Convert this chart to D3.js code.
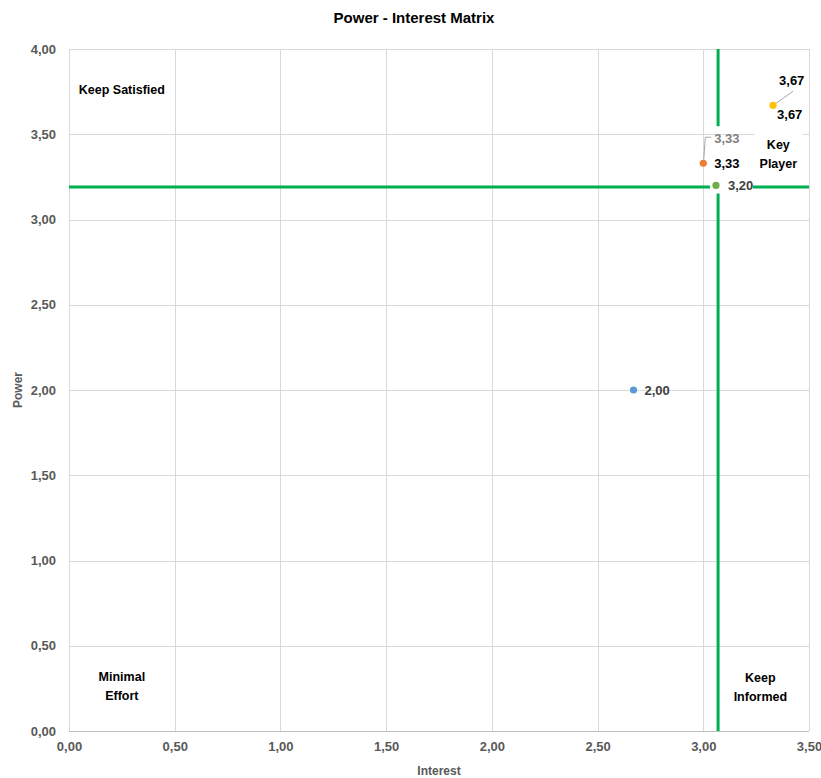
<!DOCTYPE html>
<html>
<head>
<meta charset="utf-8">
<script src="https://cdn.jsdelivr.net/npm/d3@7/dist/d3.min.js"></script>
<style>
  html, body { margin: 0; padding: 0; background: #ffffff; }
  svg { display: block; font-family: "Liberation Sans", Arial, sans-serif; }
</style>
</head>
<body>
<svg id="chart" width="821" height="778"></svg>
<script>
// Stakeholder scores: interest (x) and power (y)
const stakeholders = ["A", "B", "C", "D"];
const interest = [2.67, 3.00, 3.06, 3.33];
const power = [2.00, 3.33, 3.20, 3.67];
const pointColors = ["#5b9bd5", "#ed7d31", "#70ad47", "#ffc000"];
const labelColors = ["#404040", "#000000", "#404040", "#000000"];

// Quadrant thresholds
const interestCut = 3.07;
const powerCut = 3.19;

// Axis ticks
const xTicks = [0, 0.5, 1, 1.5, 2, 2.5, 3, 3.5];
const yTicks = [0, 0.5, 1, 1.5, 2, 2.5, 3, 3.5, 4];

// Quadrant names
const quadrants = [
  { lines: ["Keep Satisfied"], x: 0.25, y: 3.76 },
  { lines: ["Key", "Player"], x: 3.355, y: 3.385 },
  { lines: ["Minimal", "Effort"], x: 0.25, y: 0.265 },
  { lines: ["Keep", "Informed"], x: 3.27, y: 0.255 }
];

const W = 821, H = 778;
const margin = { top: 49, right: 12, bottom: 47, left: 69 };
const svg = d3.select("#chart");

const x = d3.scaleLinear().domain([0, 3.5]).range([margin.left, W - margin.right]);
const y = d3.scaleLinear().domain([0, 4]).range([H - margin.bottom, margin.top]);

const locale = d3.formatLocale({ decimal: ",", thousands: ".", grouping: [3], currency: ["", ""] });
const fmt = locale.format(".2f");

// Title
svg.append("text")
  .attr("x", 414).attr("y", 23)
  .attr("text-anchor", "middle")
  .attr("font-size", 15).attr("font-weight", "bold").attr("fill", "#000")
  .text("Power - Interest Matrix");

// Gridlines
const grid = svg.append("g").attr("stroke", "#d9d9d9").attr("stroke-width", 1);
grid.selectAll("line.v").data(xTicks).join("line")
  .attr("x1", d => Math.round(x(d)) + 0.5).attr("x2", d => Math.round(x(d)) + 0.5)
  .attr("y1", y(4)).attr("y2", y(0));
grid.selectAll("line.h").data(yTicks).join("line")
  .attr("x1", x(0)).attr("x2", x(3.5))
  .attr("y1", d => Math.round(y(d)) + 0.5).attr("y2", d => Math.round(y(d)) + 0.5)
  .attr("stroke", d => d === 0 ? "#bfbfbf" : "#d9d9d9");

// Axes (labels only, Excel style)
const xAxis = svg.append("g")
  .attr("transform", `translate(0,${y(0)})`)
  .call(d3.axisBottom(x).tickValues(xTicks).tickFormat(fmt).tickSize(0).tickPadding(11));
const yAxis = svg.append("g")
  .attr("transform", `translate(${x(0)},0)`)
  .call(d3.axisLeft(y).tickValues(yTicks).tickFormat(fmt).tickSize(0).tickPadding(13));
[xAxis, yAxis].forEach(a => {
  a.select(".domain").remove();
  a.selectAll("text")
    .attr("font-family", "'Liberation Sans', Arial, sans-serif")
    .attr("font-size", 13).attr("font-weight", "bold").attr("fill", "#595959");
});

// Axis titles
svg.append("text")
  .attr("x", (x(0) + x(3.5)) / 2).attr("y", 775)
  .attr("text-anchor", "middle")
  .attr("font-size", 12).attr("font-weight", "bold").attr("fill", "#595959")
  .text("Interest");
svg.append("text")
  .attr("transform", `translate(22,${(y(0) + y(4)) / 2}) rotate(-90)`)
  .attr("text-anchor", "middle")
  .attr("font-size", 12).attr("font-weight", "bold").attr("fill", "#595959")
  .text("Power");

// Quadrant dividers, interrupted around the label block next to the crossing point
const cx = x(interestCut), cy = y(powerCut);
const gPt = { x: x(interest[2]), y: y(power[2]) };
const gapLeft = gPt.x - 6, gapRight = gPt.x + 37;
const gapTop = y(power[1]) - 37, gapBottom = gPt.y + 8;
const divider = svg.append("g").attr("stroke", "#00b050").attr("stroke-width", 3).attr("fill", "none");
divider.append("line").attr("x1", x(0)).attr("x2", gapLeft).attr("y1", cy).attr("y2", cy);
divider.append("line").attr("x1", gapRight).attr("x2", x(3.5)).attr("y1", cy).attr("y2", cy);
divider.append("line").attr("x1", cx).attr("x2", cx).attr("y1", y(4)).attr("y2", gapTop);
divider.append("line").attr("x1", cx).attr("x2", cx).attr("y1", gapBottom).attr("y2", y(0));

// Quadrant labels (white boxes over the grid)
const qg = svg.append("g");
quadrants.forEach(q => {
  const lh = 19;
  const n = q.lines.length;
  const px = x(q.x), py = y(q.y);
  const t = qg.append("text")
    .attr("text-anchor", "middle")
    .attr("font-size", 12.5).attr("font-weight", "bold").attr("fill", "#000");
  q.lines.forEach((l, i) => {
    t.append("tspan").attr("x", px).attr("y", py + (i - (n - 1) / 2) * lh).attr("dy", "0.35em").text(l);
  });
  const bb = t.node().getBBox();
  qg.insert("rect", () => t.node())
    .attr("x", bb.x - 5).attr("y", bb.y - 5)
    .attr("width", bb.width + 10).attr("height", bb.height + 10)
    .attr("fill", "#fff");
});

// Leader lines for the moved callout labels
const leaders = svg.append("g").attr("stroke", "#a6a6a6").attr("stroke-width", 1).attr("fill", "none");
const oPt = { x: x(interest[1]), y: y(power[1]) };
leaders.append("polyline")
  .attr("points", [[oPt.x + 0.5, oPt.y - 4], [oPt.x + 2, oPt.y - 26], [oPt.x + 8, oPt.y - 26]].map(p => p.join(",")).join(" "));
const yPt = { x: x(interest[3]), y: y(power[3]) };
leaders.append("line")
  .attr("x1", yPt.x + 3).attr("y1", yPt.y - 2)
  .attr("x2", yPt.x + 20).attr("y2", yPt.y - 14);

// Points
svg.append("g").selectAll("circle").data(stakeholders).join("circle")
  .attr("cx", (d, i) => x(interest[i]))
  .attr("cy", (d, i) => y(power[i]))
  .attr("r", 3.6)
  .attr("fill", (d, i) => pointColors[i]);

// Value labels beside each point
const labelOffsets = [[11, 0], [11, 0], [12, 0], [4, 9]];
const lbl = svg.append("g").attr("font-size", 13).attr("font-weight", "bold");
stakeholders.forEach((s, i) => {
  lbl.append("text")
    .attr("x", x(interest[i]) + labelOffsets[i][0])
    .attr("y", y(power[i]) + labelOffsets[i][1])
    .attr("dy", "0.35em")
    .attr("fill", labelColors[i])
    .text(fmt(power[i]));
});
// Callout copies of the B and D values
lbl.append("text")
  .attr("x", oPt.x + 11).attr("y", oPt.y - 25).attr("dy", "0.35em")
  .attr("fill", "#7f7f7f").text(fmt(power[1]));
lbl.append("text")
  .attr("x", yPt.x + 6).attr("y", yPt.y - 25).attr("dy", "0.35em")
  .attr("fill", "#000").text(fmt(power[3]));
</script>
</body>
</html>
